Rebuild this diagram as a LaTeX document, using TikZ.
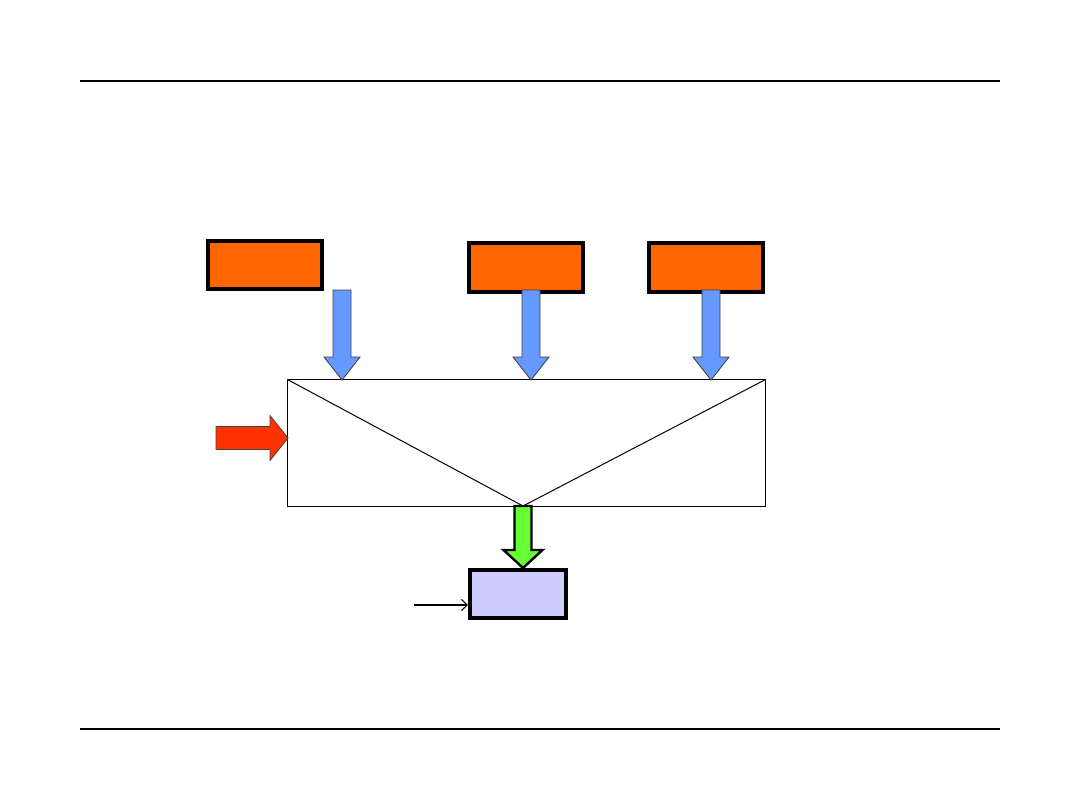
\documentclass[tikz,border=0pt]{standalone}
\usepackage{xcolor}
\usepackage{tikz}
\usetikzlibrary{arrows.meta,positioning,calc}
\definecolor{boxorange}{HTML}{FF6600}
\definecolor{feedblue}{HTML}{6699FF}
\definecolor{sidered}{HTML}{FF3300}
\definecolor{outgreen}{HTML}{66FF33}
\definecolor{lavender}{HTML}{CCCCFF}
\tikzset{
  rule/.style={line width=1.4pt, black},
  srcbox/.style={draw, line width=2.6pt, fill=boxorange, minimum width=2.86cm, minimum height=1.21cm, inner sep=0pt},
  sinkbox/.style={draw, line width=2.6pt, fill=lavender, minimum width=2.41cm, minimum height=1.21cm, inner sep=0pt},
  frame/.style={draw, line width=0.7pt, minimum width=11.925cm, minimum height=3.15cm, inner sep=0pt},
  feedarrow/.style={fill=feedblue, draw=black!75, line width=0.6pt},
  sidearrow/.style={fill=sidered, draw=black!75, line width=0.6pt},
  outarrow/.style={fill=outgreen, draw=black, line width=1.7pt},
  pointer/.style={-{Straight Barb[length=4pt, width=8pt]}, line width=0.8pt},
  % block arrow, tip at origin, pointing along local x: {length}{shaft half}{head half}{head length}
  pics/blockarrow/.style n args={4}{code={
    \path[pic actions] (0,0) -- (-#4,#3) -- (-#4,#2) -- (-#1,#2) -- (-#1,-#2)
      -- (-#4,-#2) -- (-#4,-#3) -- cycle;
  }},
}
\begin{document}
\begin{tikzpicture}[x=0.025cm, y=-0.025cm, line join=miter]
\useasboundingbox (0,0) rectangle (1080,810);
% header and footer rules
\draw[rule] (80,81) -- (1000,81);
\draw[rule] (80,729) -- (1000,729);
% source boxes
\node[srcbox] (srcA) at (265,265) {};
\node[srcbox] (srcB) at (526,267.5) {};
\node[srcbox] (srcC) at (706,267.5) {};
% central block with its two diagonals
\node[frame] (blk) at (526.5,443) {};
\coordinate (apex) at (523,506);
\draw[line width=0.7pt] (blk.north west) -- (apex) -- (blk.north east);
% output box
\node[sinkbox] (sink) at (518,594) {};
\coordinate (src) at (414,605);
\draw[pointer] (src) -- (src -| sink.west);
% feed arrows into the block
\coordinate (inA) at (342,380);
\coordinate (inB) at (531,380);
\coordinate (inC) at (711,380);
\foreach \p in {inA,inB,inC}
  \pic[feedarrow, rotate=-90] at (\p) {blockarrow={90}{9}{18}{23}};
% side arrow
\coordinate (inS) at (288,438);
\pic[sidearrow] at (inS) {blockarrow={72}{11.5}{22.5}{18}};
% output arrow
\pic[outarrow, rotate=-90] at ($(sink.north -| apex)$) {blockarrow={62}{8.5}{19.5}{18}};
\end{tikzpicture}
\end{document}
